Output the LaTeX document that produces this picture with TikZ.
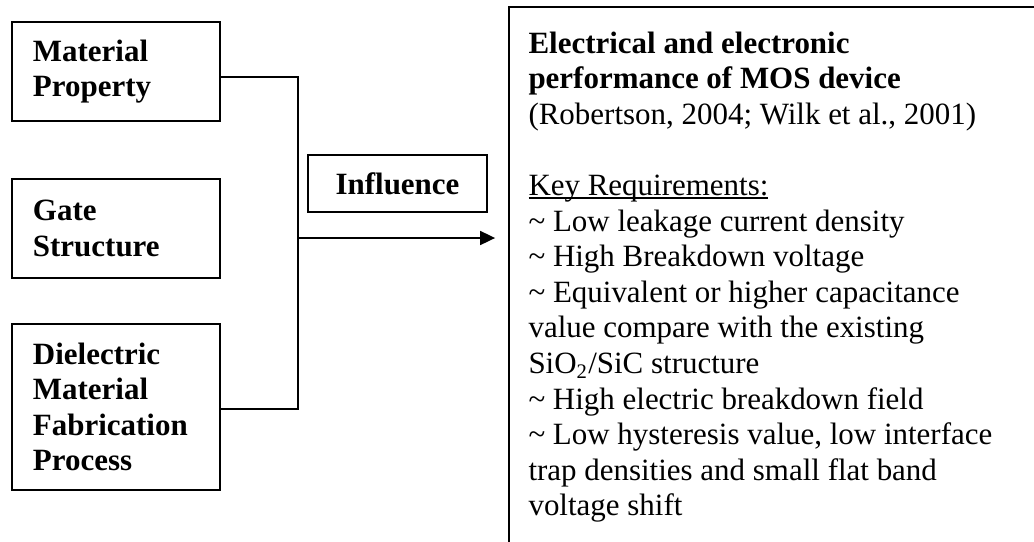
\documentclass[tikz,border=0pt]{standalone}
\usepackage{fontspec}
\setmainfont{Liberation Serif}
\usetikzlibrary{arrows.meta,positioning}

% one unit of the picture
\newdimen\px
\px=0.3876pt

% underline that sits close to the baseline
\newcommand{\keyul}[1]{\setbox0\hbox{#1}\rlap{\rule[-1.3pt]{\wd0}{0.5pt}}\box0}

\begin{document}
\begin{tikzpicture}[x=0.3876pt,y=-0.3876pt,
    every node/.style={font=\fontsize{12}{13.8}\selectfont},
    factor/.style={draw,line width=0.75pt,anchor=north west,minimum width=208\px,
        text width=166\px,inner xsep=21\px,align=left,
        font=\fontsize{12}{13.8}\selectfont\bfseries},
    link/.style={line width=0.75pt},
    flow/.style={line width=0.75pt,-{Triangle[length=5.8pt,width=5.4pt]},shorten >=5pt}]
    \clip (0,0) rectangle (1034,541);

    % the three factors on the left
    \node[factor,minimum height=99\px] (matprop) at (11,21) {Material\\Property};
    \node[factor,minimum height=99\px] (gate) at (11,178) {Gate\\Structure};
    \node[factor,minimum height=166\px] (diel) at (11,323) {Dielectric\\Material\\Fabrication\\Process};

    \node[draw,line width=0.75pt,minimum width=179\px,minimum height=57\px,
        font=\fontsize{12}{13.8}\selectfont\bfseries] (infl) at (397.5,183.5) {Influence};

    % performance box, runs off the page at the right and bottom
    \node[draw,line width=0.75pt,anchor=north west,minimum width=560\px,
        minimum height=560\px] (perfbox) at (508,6) {};
    \node[anchor=north west,inner sep=0pt,align=left] (perf) at (528,31)
        {\textbf{Electrical and electronic}\\
         \textbf{performance of MOS device}\\
         (Robertson, 2004; Wilk et al., 2001)\\[13.8pt]
         \keyul{Key Requirements:}\\
         \textasciitilde\ Low leakage current density\\
         \textasciitilde\ High Breakdown voltage\\
         \textasciitilde\ Equivalent or higher capacitance\\
         value compare with the existing\\
         SiO\textsubscript{2}/SiC structure\\
         \textasciitilde\ High electric breakdown field\\
         \textasciitilde\ Low hysteresis value, low interface\\
         trap densities and small flat band\\
         voltage shift};

    % connectors
    \coordinate (bus) at (298,238);
    \draw[link] ([yshift=-2pt]matprop.east) -| (bus) |- ([yshift=-0.8pt]diel.east);
    \draw[flow] (bus) -- (perfbox.west |- bus);
\end{tikzpicture}
\end{document}
